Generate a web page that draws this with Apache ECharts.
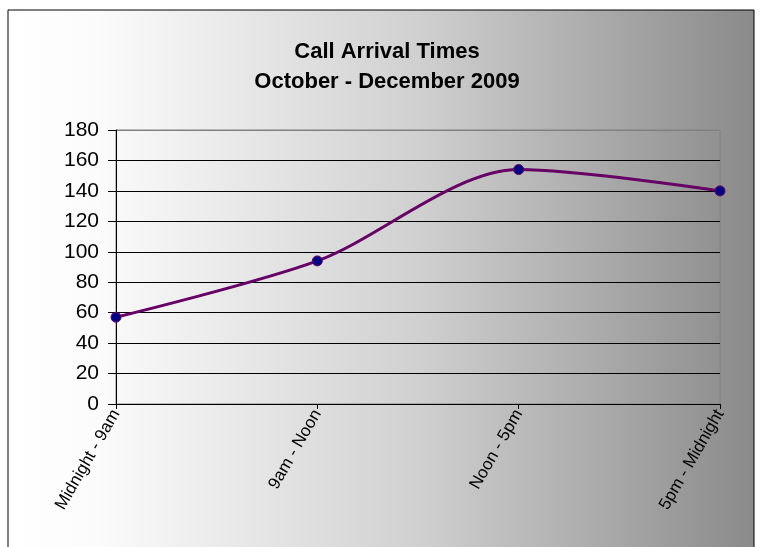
<!DOCTYPE html>
<html>
<head>
<meta charset="utf-8">
<script src="https://cdn.jsdelivr.net/npm/echarts@6/dist/echarts.min.js"></script>
<style>
  html, body { margin: 0; padding: 0; background: #fff; }
  #chart { width: 762px; height: 547px; }
</style>
</head>
<body>
<div id="chart"></div>
<script>
// data
const categories = ['Midnight - 9am', '9am - Noon', 'Noon - 5pm', '5pm - Midnight'];
const calls = [57, 94, 154, 140];
const yTicks = { min: 0, max: 180, interval: 20 };

const chart = echarts.init(document.getElementById('chart'));

// gridlines are black, the top one is the gray plot border
const gridColors = ['#000', '#000', '#000', '#000', '#000', '#000', '#000', '#000', '#000', '#808080'];

const option = {
  animation: false,
  graphic: [
    {
      type: 'rect',
      z: -10,
      shape: { x: 8, y: 10, width: 746, height: 545 },
      style: {
        fill: new echarts.graphic.LinearGradient(0, 0, 1, 0, [
          { offset: 0, color: '#ffffff' },
          { offset: 0.12, color: '#fbfbfb' },
          { offset: 0.55, color: '#d0d0d0' },
          { offset: 1, color: '#8a8a8a' }
        ]),
        stroke: '#000',
        lineWidth: 1
      }
    }
  ],
  title: {
    text: 'Call Arrival Times\nOctober - December 2009',
    left: 382,
    top: 32,
    textAlign: 'center',
    textStyle: {
      fontFamily: 'Liberation Sans, Arial, sans-serif',
      fontSize: 22,
      fontWeight: 'bold',
      color: '#000',
      lineHeight: 30
    }
  },
  grid: {
    left: 116,
    right: 42,
    top: 130,
    bottom: 143,
    show: true,
    borderColor: '#808080',
    borderWidth: 1,
    backgroundColor: 'transparent'
  },
  xAxis: {
    type: 'category',
    data: categories,
    boundaryGap: false,
    axisLine: { lineStyle: { color: '#000', width: 1 } },
    axisTick: { show: true, alignWithLabel: true, length: 5, lineStyle: { color: '#000' } },
    axisLabel: {
      rotate: 60,
      interval: 0,
      margin: 7,
      fontFamily: 'Liberation Sans, Arial, sans-serif',
      fontSize: 17,
      color: '#000'
    },
    splitLine: { show: false }
  },
  yAxis: {
    type: 'value',
    min: yTicks.min,
    max: yTicks.max,
    interval: yTicks.interval,
    axisLine: { show: true, lineStyle: { color: '#000', width: 1 } },
    axisTick: { show: true, length: 8, lineStyle: { color: '#000' } },
    axisLabel: {
      margin: 17,
      fontFamily: 'Liberation Sans, Arial, sans-serif',
      fontSize: 21,
      color: '#000'
    },
    splitLine: { show: true, lineStyle: { color: gridColors, width: 1 } }
  },
  series: [
    {
      type: 'line',
      data: calls,
      smooth: 0.3,
      symbol: 'circle',
      symbolSize: 10,
      lineStyle: { color: '#660066', width: 3 },
      itemStyle: { color: '#000080', borderColor: '#660066', borderWidth: 1 }
    }
  ]
};

chart.setOption(option);
</script>
</body>
</html>
